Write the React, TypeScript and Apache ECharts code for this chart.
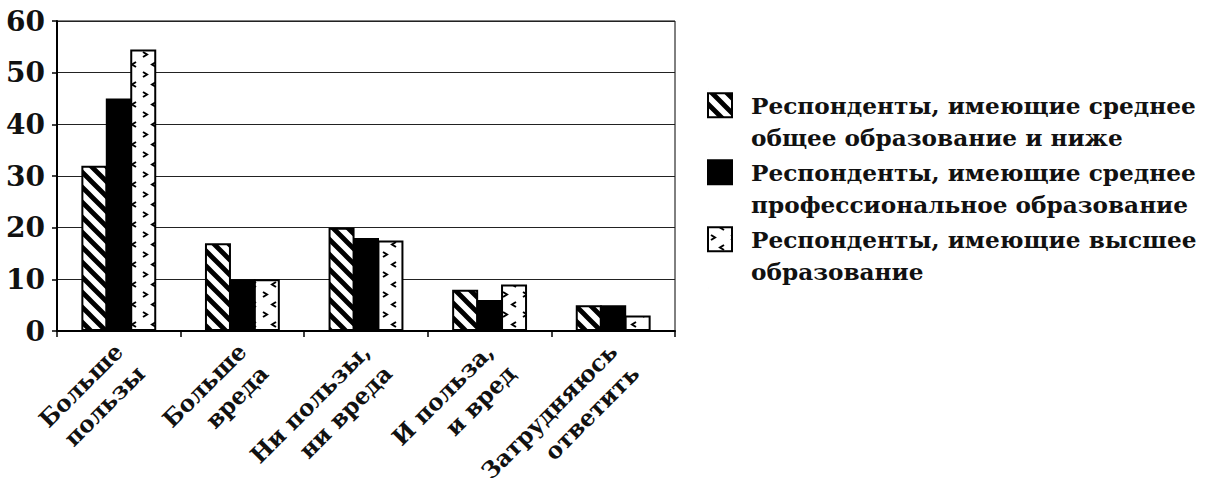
import React, { useEffect, useRef } from "react";
import * as echarts from "echarts";

const categories = [
  "Больше\nпользы",
  "Больше\nвреда",
  "Ни пользы,\nни вреда",
  "И польза,\nи вред",
  "Затрудняюсь\nответить",
];
const seriesNames = [
  "Респонденты, имеющие среднее\nобщее образование и ниже",
  "Респонденты, имеющие среднее\nпрофессиональное образование",
  "Респонденты, имеющие высшее\nобразование",
];
const generalEdu = [32, 17, 20, 8, 5];
const professionalEdu = [45, 10, 18, 6, 5];
const higherEdu = [54.5, 10, 17.5, 9, 3];
const yMin = 0;
const yMax = 60;
const yInterval = 10;

const FONT = "'DejaVu Serif', serif";

function svgUrl(svg: string) {
  return "data:image/svg+xml;charset=utf-8," + encodeURIComponent(svg);
}

const stripeTile = svgUrl(
  `<svg xmlns="http://www.w3.org/2000/svg" width="15" height="15" viewBox="0 0 15 15">` +
    `<rect width="15" height="15" fill="#fff"/>` +
    `<path d="M-3,-3 L18,18 M-3,12 L3,18 M12,-3 L18,3" stroke="#000" stroke-width="4.8"/>` +
    `</svg>`
);

const dotTile = svgUrl(
  `<svg xmlns="http://www.w3.org/2000/svg" width="20" height="20" viewBox="0 0 20 20">` +
    `<rect width="20" height="20" fill="#fff"/>` +
    `<path d="M3,12 L7,14.5 L3,17" fill="none" stroke="#000" stroke-width="2"/>` +
    `<path d="M16,2 L12,4.5 L16,7" fill="none" stroke="#000" stroke-width="2"/>` +
    `</svg>`
);

const stripeFill: any = { image: stripeTile, repeat: "repeat", imageWidth: 15, imageHeight: 15 };
const dotFill: any = { image: dotTile, repeat: "repeat", imageWidth: 20, imageHeight: 20 };

export default function App() {
  const ref = useRef<HTMLDivElement>(null);
  useEffect(() => {
    if (!ref.current) return;
    const chart = echarts.init(ref.current, undefined, { renderer: "svg" });
    const fills = [stripeFill, "#000", dotFill];
    const datasets = [generalEdu, professionalEdu, higherEdu];
    const option: any = {
      animation: false,
      backgroundColor: "#fff",
      grid: {
        left: 57,
        right: 533,
        top: 21,
        bottom: 172,
        show: true,
        borderColor: "#000",
        borderWidth: 1,
        containLabel: false,
        outerBoundsMode: "none",
      },
      legend: {
        orient: "vertical",
        left: 702,
        top: 83,
        padding: 5,
        itemGap: 0,
        itemWidth: 24,
        itemHeight: 65,
        icon: "path://M0 4.25h24v24h-24z M0 0L0.01 0 M0 65L0.01 65",
        selectedMode: false,
        textStyle: {
          fontFamily: FONT,
          fontSize: 23.2,
          fontWeight: "bold",
          color: "#111",
          lineHeight: 32.5,
          padding: [0, 0, 0, 14],
        },
        data: seriesNames,
      },
      xAxis: {
        type: "category",
        data: categories,
        axisLine: { show: true, lineStyle: { color: "#000", width: 2 } },
        axisTick: { show: true, length: 6, lineStyle: { color: "#000", width: 1.5 } },
        axisLabel: {
          interval: 0,
          rotate: 45,
          margin: -6,
          align: "right",
          verticalAlign: "top",
          padding: [0, 16, 0, 0],
          fontFamily: FONT,
          fontSize: 23.2,
          fontWeight: "bold",
          color: "#111",
          lineHeight: 31,
        },
      },
      yAxis: {
        type: "value",
        min: yMin,
        max: yMax,
        interval: yInterval,
        axisLine: { show: true, lineStyle: { color: "#000", width: 2 } },
        axisTick: { show: true, length: 5, lineStyle: { color: "#000", width: 1.5 } },
        splitLine: { show: true, lineStyle: { color: "#222", width: 1 } },
        axisLabel: {
          margin: 12,
          fontFamily: FONT,
          fontSize: 28,
          fontWeight: "bold",
          color: "#111",
        },
      },
      series: seriesNames.map((name, i) => ({
        name,
        type: "bar",
        data: datasets[i],
        barWidth: 26,
        barGap: "-6%",
        itemStyle: {
          color: fills[i],
          borderColor: "#000",
          borderWidth: 2,
        },
      })),
    };
    chart.setOption(option);
    return () => chart.dispose();
  }, []);
  return (
    <div
      ref={ref}
      style={{ position: "fixed", left: 0, top: 0, width: 1208, height: 503, background: "#fff" }}
    />
  );
}
